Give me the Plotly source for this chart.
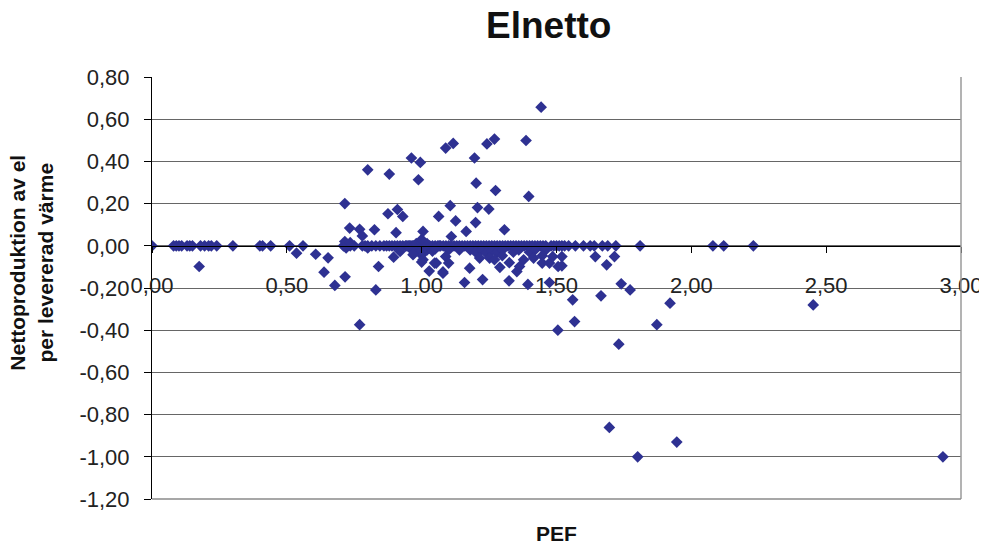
import plotly.graph_objects as go

# Points lying on the zero line (y = 0)
zero_x = [0.00, 0.08, 0.09, 0.10, 0.11, 0.13, 0.14, 0.15, 0.18, 0.195, 0.21, 0.22, 0.24,
          0.30, 0.40, 0.41, 0.44, 0.51, 0.56, 0.71, 0.72, 0.735, 0.75,
          0.78, 0.79, 0.80, 0.815, 0.83, 0.845, 0.86, 0.87, 0.88, 0.89, 0.90, 0.91, 0.92,
          0.93, 0.94, 0.945, 0.95, 0.955, 0.96, 0.965, 0.97, 0.975, 0.98, 0.985, 0.99,
          0.995, 1.00, 1.005, 1.01, 1.015, 1.02, 1.025, 1.03, 1.04, 1.05, 1.06, 1.065,
          1.07, 1.08, 1.09, 1.10, 1.11, 1.12, 1.13, 1.14, 1.15, 1.16, 1.17, 1.18, 1.19,
          1.20, 1.21, 1.22, 1.23, 1.24, 1.25, 1.26, 1.27, 1.28, 1.29, 1.30, 1.31, 1.32,
          1.33, 1.34, 1.35, 1.36, 1.37, 1.38, 1.39, 1.40, 1.41, 1.42, 1.43, 1.44, 1.45,
          1.46, 1.48, 1.49, 1.50, 1.51, 1.52, 1.53, 1.545, 1.57, 1.60, 1.625, 1.64, 1.67,
          1.69, 1.72, 1.81, 2.08, 2.12, 2.23]
zero_y = [0.0] * len(zero_x)

# Points close to the zero line
near_x = [0.96, 0.975, 0.99, 1.00, 1.01, 1.02, 1.03, 1.04, 1.05, 0.98, 1.00, 1.02, 1.00,
          1.18, 1.20, 1.22, 1.24, 1.26, 1.28, 1.30, 1.34, 1.36, 1.40, 1.42, 1.46, 1.14,
          1.10, 0.80, 0.72, 0.715, 0.735, 0.993, 1.005]
near_y = [-0.015, -0.02, -0.025, -0.01, -0.03, -0.02, -0.01, -0.025, -0.015, 0.01, 0.015,
          0.01, 0.03, -0.02, -0.03, -0.02, -0.035, -0.025, -0.03, -0.02, -0.03, -0.02,
          -0.03, -0.02, -0.02, -0.02, -0.02, -0.01, -0.01, 0.02, 0.015, -0.035, -0.066]

# Scattered points above zero
pos_x = [0.715, 0.733, 0.77, 0.78, 0.825, 0.80, 0.88, 0.875, 0.91, 0.93, 0.905, 0.962,
         0.995, 0.988, 1.005, 1.063, 1.106, 1.126, 1.089, 1.117, 1.11, 1.165, 1.196,
         1.202, 1.207, 1.20, 1.249, 1.242, 1.27, 1.274, 1.307, 1.387, 1.397, 1.443]
pos_y = [0.20, 0.084, 0.078, 0.047, 0.076, 0.36, 0.34, 0.152, 0.172, 0.139, 0.062, 0.416,
         0.395, 0.313, 0.068, 0.139, 0.19, 0.118, 0.463, 0.485, 0.044, 0.068, 0.416,
         0.297, 0.181, 0.11, 0.174, 0.483, 0.506, 0.262, 0.076, 0.499, 0.234, 0.657]

# Scattered points below zero
neg_x = [0.175, 0.536, 0.607, 0.653, 0.638, 0.678, 0.716, 0.77, 0.83, 0.84, 0.896, 0.92,
         0.968, 1.00, 1.028, 1.054, 1.079, 1.089, 1.10, 1.159, 1.178, 1.226, 1.215, 1.252,
         1.27, 1.299, 1.29, 1.325, 1.324, 1.353, 1.363, 1.378, 1.394, 1.415, 1.447, 1.447,
         1.474, 1.486, 1.474, 1.506, 1.52, 1.52, 1.505, 1.56, 1.567, 1.644, 1.715, 1.686,
         1.74, 1.773, 1.665, 1.921, 1.872, 1.731, 2.452, 1.696, 1.946, 1.801, 2.933,
         1.048, 1.079]
neg_y = [-0.098, -0.035, -0.04, -0.057, -0.125, -0.188, -0.147, -0.374, -0.209, -0.098,
         -0.054, -0.027, -0.042, -0.077, -0.12, -0.082, -0.124, -0.051, -0.082, -0.174,
         -0.106, -0.16, -0.058, -0.058, -0.066, -0.047, -0.102, -0.08, -0.166, -0.122,
         -0.098, -0.066, -0.183, -0.058, -0.047, -0.082, -0.082, -0.051, -0.174, -0.098,
         -0.051, -0.095, -0.40, -0.256, -0.359, -0.051, -0.051, -0.09, -0.18, -0.209,
         -0.237, -0.272, -0.374, -0.466, -0.28, -0.861, -0.93, -1.0, -1.0, -0.082, -0.13]

pef = zero_x + near_x + pos_x + neg_x
netto = zero_y + near_y + pos_y + neg_y

x_tickvals = [0.0, 0.5, 1.0, 1.5, 2.0, 2.5, 3.0]
x_ticktext = ["0,00", "0,50", "1,00", "1,50", "2,00", "2,50", "3,00"]
y_tickvals = [0.8, 0.6, 0.4, 0.2, 0.0, -0.2, -0.4, -0.6, -0.8, -1.0, -1.2]
y_ticktext = ["0,80", "0,60", "0,40", "0,20", "0,00", "-0,20", "-0,40", "-0,60",
              "-0,80", "-1,00", "-1,20"]

title_text = "Elnetto"
x_title = "PEF"
y_title = "Nettoproduktion av el<br>per levererad värme"

FONT = "Liberation Sans, Arial, sans-serif"
BLUE = "#2E3192"

fig = go.Figure()
fig.add_trace(go.Scatter(
    x=pef, y=netto, mode="markers",
    marker=dict(symbol="diamond", size=9, color=BLUE, line=dict(width=0)),
    showlegend=False, hoverinfo="x+y",
))

# The page body has an 8px default margin, so the figure is 8px smaller
fig.update_layout(
    width=979, height=542,
    margin=dict(l=144, r=26, t=69, b=51, autoexpand=False),
    paper_bgcolor="white", plot_bgcolor="white",
    font=dict(family=FONT, size=22, color="#222222"),
    xaxis=dict(
        range=[0, 3], tickmode="array", tickvals=x_tickvals, ticktext=x_ticktext,
        anchor="free", position=0.6, automargin=False,
        showline=True, linecolor="#000000", linewidth=1,
        ticks="outside", ticklen=6, tickcolor="#000000",
        showgrid=False, zeroline=False,
        ticklabelstandoff=14,
        tickfont=dict(size=22, color="#222222"),
    ),
    yaxis=dict(
        range=[-1.2, 0.8], tickmode="array", tickvals=y_tickvals, ticktext=y_ticktext,
        automargin=False,
        showline=True, linecolor="#000000", linewidth=1,
        ticks="outside", ticklen=7, tickcolor="#000000",
        showgrid=True, gridcolor="#666666", gridwidth=1,
        zeroline=False,
        ticklabelstandoff=10,
        tickfont=dict(size=22, color="#222222"),
    ),
    shapes=[
        dict(type="line", xref="x domain", yref="y domain", x0=1, x1=1, y0=0, y1=1,
             line=dict(color="#9a9a9a", width=1.5)),
        dict(type="line", xref="x domain", yref="y domain", x0=0, x1=1, y0=0, y1=0,
             line=dict(color="#8a8a8a", width=1.5)),
    ],
    annotations=[
        dict(text="<b>" + title_text + "</b>", xref="paper", yref="paper",
             x=0.5, xshift=-8, y=1.0, yshift=52, xanchor="center", yanchor="middle",
             showarrow=False, font=dict(size=37, color="#111111")),
        dict(text="<b>" + x_title + "</b>", xref="paper", yref="paper",
             x=0.5, y=0, yshift=-34, xanchor="center", yanchor="middle",
             showarrow=False, font=dict(size=21, color="#111111")),
        dict(text="<b>" + y_title + "</b>", xref="paper", yref="paper",
             x=0, xshift=-121, y=0.56, xanchor="center", yanchor="middle",
             textangle=-90, showarrow=False, font=dict(size=21, color="#111111")),
    ],
)

fig.write_html("out.html")
